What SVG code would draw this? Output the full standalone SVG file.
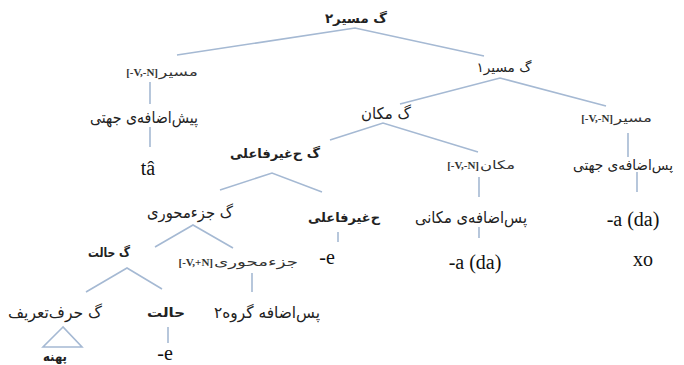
<svg xmlns="http://www.w3.org/2000/svg" width="684" height="365" viewBox="0 0 684 365">
<style>
.fa{font-family:"DejaVu Sans",sans-serif;fill:#222;text-anchor:middle;dominant-baseline:central}
.fl{font-family:"DejaVu Sans",sans-serif;fill:#333;text-anchor:start;dominant-baseline:central;font-size:12px}
.br{font-family:"Liberation Serif",serif;fill:#333;text-anchor:end;dominant-baseline:central;font-size:11px;font-weight:bold}
.m{font-size:16px}
.s{font-size:13px}
.b{font-weight:bold}
.lat{font-family:"Liberation Serif",serif;fill:#111;text-anchor:middle;dominant-baseline:central;font-size:20px}
.e{stroke:#a5b9d3;stroke-width:1.6;fill:none}
</style>
<rect width="684" height="365" fill="#fff"/>
<g id="connectors">
<path class="e" d="M177 55 L355 28 L484 56"/>
<path class="e" d="M400 104 L500 78 L606 106"/>
<path class="e" d="M150 82 V104 M150 127 V147"/>
<path class="e" d="M628 133 V157 M637 172 V192"/>
<path class="e" d="M330 140 L383 123 L478 152"/>
<path class="e" d="M479 177 V197 M479 227 V238"/>
<path class="e" d="M220 190 L272 173 L322 192"/>
<path class="e" d="M338 232 V242"/>
<path class="e" d="M155 247 L193 225 L233 248"/>
<path class="e" d="M252 273 V292"/>
<path class="e" d="M86 292 L127 268 L162 289"/>
<path class="e" d="M168 327 V343"/>
<path class="e" d="M63 327 L43 347 L82 347 Z" stroke="#8a9aab"/>
</g>
<g id="n-root"><text class="fa s b" x="356" y="18" direction="rtl" textLength="62" lengthAdjust="spacingAndGlyphs">گ مسیر۲</text></g>
<g id="n-masir-left"><text class="br" x="158" y="72">[-V,-N]</text><text class="fl" x="159" y="72" textLength="39" lengthAdjust="spacingAndGlyphs">مسیر</text></g>
<g id="n-pish"><text class="fa m" x="144" y="117" direction="rtl" textLength="108" lengthAdjust="spacingAndGlyphs">پیش‌اضافه‌ی جهتی</text></g>
<g id="n-ta"><text class="lat" x="148" y="168">tâ</text></g>
<g id="n-masir1"><text class="fa s" x="504" y="67" direction="rtl" textLength="55" lengthAdjust="spacingAndGlyphs">گ مسیر۱</text></g>
<g id="n-masir-right"><text class="br" x="613" y="118">[-V,-N]</text><text class="fl" x="614" y="118" textLength="38" lengthAdjust="spacingAndGlyphs">مسیر</text></g>
<g id="n-pas-jahati"><text class="fa" x="623" y="165" font-size="14" direction="rtl" textLength="100" lengthAdjust="spacingAndGlyphs">پس‌اضافه‌ی جهتی</text></g>
<g id="n-ada-right"><text class="lat" x="633" y="219">-a (da)</text></g>
<g id="n-xo"><text class="lat" x="643" y="259" font-size="19">xo</text></g>
<g id="n-makan-p"><text class="fa m" x="386" y="113" direction="rtl" textLength="50" lengthAdjust="spacingAndGlyphs">گ مکان</text></g>
<g id="n-makan"><text class="br" x="479" y="165">[-V,-N]</text><text class="fl" x="480" y="165" textLength="35" lengthAdjust="spacingAndGlyphs">مکان</text></g>
<g id="n-pas-makani"><text class="fa m" x="471" y="217" direction="rtl" textLength="112" lengthAdjust="spacingAndGlyphs">پس‌اضافه‌ی مکانی</text></g>
<g id="n-ada"><text class="lat" x="475" y="262">-a (da)</text></g>
<g id="n-hgf-p"><text class="fa s b" x="275" y="153" direction="rtl" textLength="90" lengthAdjust="spacingAndGlyphs">گ ح‌غیرفاعلی</text></g>
<g id="n-hgf"><text class="fa s b" x="344" y="217" direction="rtl" textLength="72" lengthAdjust="spacingAndGlyphs">ح‌غیرفاعلی</text></g>
<g id="n-e1"><text class="lat" x="327" y="257" font-size="19">-e</text></g>
<g id="n-jm-p"><text class="fa m" x="190" y="212" direction="rtl" textLength="86" lengthAdjust="spacingAndGlyphs">گ جزءمحوری</text></g>
<g id="n-jm"><text class="br" x="213" y="262">[-V,+N]</text><text class="fl" x="214" y="262" textLength="84" lengthAdjust="spacingAndGlyphs">جزءمحوری</text></g>
<g id="n-halat-p"><text class="fa s b" x="109" y="252" direction="rtl" textLength="42" lengthAdjust="spacingAndGlyphs">گ حالت</text></g>
<g id="n-harf"><text class="fa m" x="55" y="312" direction="rtl" textLength="94" lengthAdjust="spacingAndGlyphs">گ حرف‌تعریف</text></g>
<g id="n-halat"><text class="fa s b" x="166" y="312" direction="rtl" textLength="38" lengthAdjust="spacingAndGlyphs">حالت</text></g>
<g id="n-pas-g2"><text class="fa m" x="267" y="312" direction="rtl" textLength="106" lengthAdjust="spacingAndGlyphs">پس‌اضافه گروه۲</text></g>
<g id="n-pahne"><text class="fa s b" x="55" y="356" direction="rtl" textLength="24" lengthAdjust="spacingAndGlyphs">پهنه</text></g>
<g id="n-e2"><text class="lat" x="165" y="353" font-size="18">-e</text></g>
</svg>
